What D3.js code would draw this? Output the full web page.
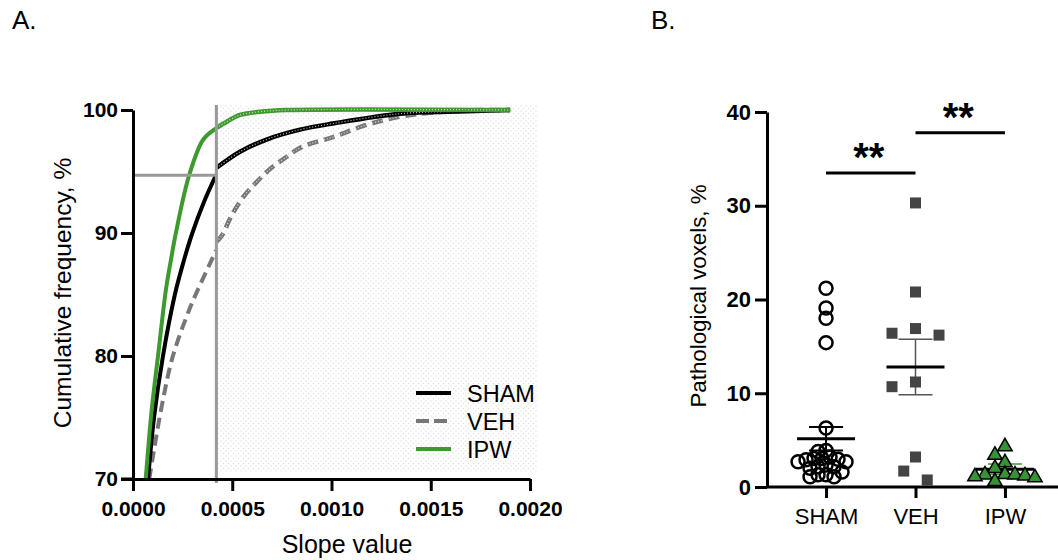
<!DOCTYPE html>
<html>
<head>
<meta charset="utf-8">
<title>Slope / voxels</title>
<script src="https://d3js.org/d3.v7.min.js"></script>
<style>
	* { margin:0; padding:0; }
	body { background:#fff; }
	svg text { font-family: "Liberation Sans", Arial, sans-serif; }
</style>
</head>
<body>
<svg id="chart" width="1058" height="560"></svg>
<script>
// ---- data ----
// panel A : cumulative distributions [slope, cumulative %]
var shamCurve = [[0.000076,70],[0.000106,75],[0.000151,80],[0.000211,85],[0.000257,87.8],[0.000299,90],[0.000357,92.5],[0.000418,94.7],
	[0.000421,95.3],[0.000539,96.6],[0.000673,97.6],[0.000841,98.4],[0.001007,98.9],[0.001344,99.7],[0.00168,99.9],[0.0019,100]];
var vehCurve = [[0.000082,70],[0.000141,75.6],[0.000201,80],[0.000282,83.7],[0.000327,85.4],[0.000396,87.8],[0.000418,88.6],
	[0.000421,89.3],[0.000448,89.8],[0.000499,91.5],[0.000559,93.0],[0.00062,94.1],[0.00069,95.2],[0.000766,96.1],[0.000851,97.0],
	[0.001008,97.8],[0.001179,98.8],[0.001345,99.45],[0.001511,99.8],[0.001763,100],[0.0019,100]];
var ipwCurve = [[0.000064,70],[0.000094,75.6],[0.000126,80],[0.000166,85.4],[0.000191,87.8],[0.000216,90],[0.000283,94.7],[0.000354,97.6],[0.000418,98.5],
	[0.000421,98.55],[0.000472,99.05],[0.000539,99.6],[0.00064,99.86],[0.000774,100],[0.0019,100]];
var cutoff = [0.00042, 94.7];
var slopeTicks = [0, 0.0005, 0.001, 0.0015, 0.002];
var freqTicks = [70, 80, 90, 100];
var legendNames = ["SHAM", "VEH", "IPW"];

// panel B : pathological voxels, %
var groups = ["SHAM", "VEH", "IPW"];
var shamVox = [21.2, 19.1, 18.0, 15.4, 6.3, 3.9, 3.8, 3.2, 3.05, 3.05, 2.95, 2.9, 2.7, 2.7, 2.35, 2.15, 2.15, 2.0, 1.6, 1.3, 1.3, 1.1, 1.1];
var vehVox = [30.3, 20.8, 16.9, 16.4, 16.2, 11.2, 10.7, 3.2, 1.7, 0.75];
var ipwVox = [4.3, 3.4, 2.6, 2.0, 1.35, 1.3, 1.3, 1.2, 1.1, 1.0, 0.6];
var groupMeans = [5.15, 12.8, 1.9];
var groupSems = [1.25, 2.95, 0.55];
var voxTicks = [0, 10, 20, 30, 40];
var sigBars = [["SHAM", "VEH", 33.5, "**"], ["VEH", "IPW", 37.8, "**"]];

var green = "#3e9a2e";
var svg = d3.select("#chart");

// ================= panel A =================
var x = d3.scaleLinear().domain([0, 0.002]).range([133, 530]);
var y = d3.scaleLinear().domain([70, 100]).range([479, 110]);

svg.append("text").attr("x", 12).attr("y", 29).attr("font-size", 26).text("A.");

// dotted shading right of the cutoff
var defs = svg.append("defs");
var pat = defs.append("pattern").attr("id", "dots").attr("patternUnits", "userSpaceOnUse")
	.attr("width", 5).attr("height", 5);
pat.append("circle").attr("cx", 1).attr("cy", 1).attr("r", 0.7).attr("fill", "#dcdcdc");
pat.append("circle").attr("cx", 3.5).attr("cy", 3.5).attr("r", 0.7).attr("fill", "#dcdcdc");
svg.append("rect")
	.attr("x", x(cutoff[0]) + 2).attr("y", y(100.4))
	.attr("width", x(0.00204) - x(cutoff[0]) - 2).attr("height", y(70.6) - y(100.4))
	.attr("fill", "url(#dots)");

var line = d3.line().x(d => x(d[0])).y(d => y(d[1])).curve(d3.curveCatmullRom.alpha(0.5));

function drawCurve(data, color, dash) {
	var pre = data.filter(d => d[0] <= cutoff[0]);
	var post = data.filter(d => d[0] > cutoff[0]);
	svg.append("path").attr("d", line(pre)).attr("fill", "none")
		.attr("stroke", color).attr("stroke-width", 4).attr("stroke-dasharray", dash);
	svg.append("path").attr("d", line(post)).attr("fill", "none")
		.attr("stroke", color).attr("stroke-width", 4.5).attr("stroke-dasharray", dash);
	// speckled texture of the part drawn with symbols
	svg.append("path").attr("d", line(post)).attr("fill", "none")
		.attr("stroke", "#fff").attr("stroke-width", 1.2).attr("stroke-dasharray", "1,2")
		.attr("opacity", 0.75);
}
drawCurve(vehCurve, "#777", "11,6");
drawCurve(shamCurve, "#000", null);
drawCurve(ipwCurve, green, null);

// cutoff crosshair
svg.append("line").attr("x1", x(cutoff[0])).attr("x2", x(cutoff[0]))
	.attr("y1", y(100.4)).attr("y2", y(70) + 4)
	.attr("stroke", "#999").attr("stroke-width", 3);
svg.append("line").attr("x1", x(0) + 1).attr("x2", x(cutoff[0]))
	.attr("y1", y(cutoff[1])).attr("y2", y(cutoff[1]))
	.attr("stroke", "#999").attr("stroke-width", 3);

var axA = svg.append("g").attr("transform", "translate(0," + y(70) + ")")
	.call(d3.axisBottom(x).tickValues(slopeTicks).tickFormat(d3.format(".4f")).tickSize(12).tickSizeOuter(0).tickPadding(10));
var ayA = svg.append("g").attr("transform", "translate(" + x(0) + ",0)")
	.call(d3.axisLeft(y).tickValues(freqTicks).tickSize(12).tickSizeOuter(0).tickPadding(3));
[axA, ayA].forEach(function (g) {
	g.selectAll("path,line").attr("stroke", "#000").attr("stroke-width", 3);
	g.selectAll("text").attr("font-size", 21).attr("font-weight", "bold").attr("fill", "#000")
		.style("font-family", "Liberation Sans, Arial, sans-serif");
});
// extend x-axis line to the left end of the 70 tick
svg.append("line").attr("x1", x(0) - 12).attr("x2", x(0)).attr("y1", y(70)).attr("y2", y(70))
	.attr("stroke", "#000").attr("stroke-width", 3);

svg.append("text").attr("x", 347).attr("y", 553).attr("text-anchor", "middle")
	.attr("font-size", 25).text("Slope value");
svg.append("text").attr("transform", "translate(62,293) rotate(-90)").attr("dy", "0.35em")
	.attr("text-anchor", "middle").attr("font-size", 24.5).text("Cumulative frequency, %");

// legend
var legColors = ["#000", "#777", green];
var legDash = [null, "13,5", null];
legendNames.forEach(function (n, i) {
	var ly = 393 + i * 28;
	svg.append("line").attr("x1", 416).attr("x2", 451).attr("y1", ly).attr("y2", ly)
		.attr("stroke", legColors[i]).attr("stroke-width", 4).attr("stroke-dasharray", legDash[i]);
	svg.append("text").attr("x", 467).attr("y", ly + 8.5).attr("font-size", 23.5).text(n);
});

// ================= panel B =================
var xb = d3.scalePoint().domain(groups).range([767, 1064]).padding(0.66);
var yb = d3.scaleLinear().domain([0, 40]).range([487, 112]);

svg.append("text").attr("x", 651).attr("y", 29).attr("font-size", 26).text("B.");

// simple swarm: place points greedily from top value down
function swarm(vals, cx, step, minDist) {
	var order = vals.map((v, i) => i).sort((a, b) => vals[b] - vals[a]);
	var placed = [];
	order.forEach(function (i) {
		var py = yb(vals[i]);
		for (var k = 0; k < 40; k++) {
			var off = k === 0 ? 0 : (k % 2 === 1 ? -1 : 1) * Math.ceil(k / 2) * step;
			var px = cx + off;
			if (placed.every(p => Math.hypot(p.x - px, p.y - py) >= minDist)) {
				placed.push({ x: px, y: py, v: vals[i] });
				break;
			}
		}
	});
	return placed;
}

// mean and SEM (behind the points)
var barColors = ["#000", "#555", green];
groups.forEach(function (g, i) {
	var cx = xb(g);
	var hi = groupMeans[i] + groupSems[i], lo = groupMeans[i] - groupSems[i];
	var eb = svg.append("g").attr("stroke", barColors[i]).attr("stroke-width", i === 0 ? 2 : 1.5);
	eb.append("line").attr("x1", cx).attr("x2", cx).attr("y1", yb(hi)).attr("y2", yb(lo));
	eb.append("line").attr("x1", cx - 17).attr("x2", cx + 17).attr("y1", yb(hi)).attr("y2", yb(hi));
	eb.append("line").attr("x1", cx - 17).attr("x2", cx + 17).attr("y1", yb(lo)).attr("y2", yb(lo));
	svg.append("line").attr("x1", cx - 29).attr("x2", cx + 29)
		.attr("y1", yb(groupMeans[i])).attr("y2", yb(groupMeans[i]))
		.attr("stroke", "#000").attr("stroke-width", 3);
});

// SHAM: open circles
svg.append("g").selectAll("circle").data(swarm(shamVox, xb("SHAM"), 4, 7.2)).join("circle")
	.attr("cx", d => d.x).attr("cy", d => d.y).attr("r", 6.5)
	.attr("fill", "none").attr("stroke", "#000").attr("stroke-width", 2.5);
// VEH: filled squares
svg.append("g").selectAll("rect").data(swarm(vehVox, xb("VEH"), 11.75, 16)).join("rect")
	.attr("x", d => d.x - 5.5).attr("y", d => d.y - 5.5).attr("width", 11).attr("height", 11)
	.attr("fill", "#444");
// IPW: green triangles
var tri = d3.symbol().type(d3.symbolTriangle).size(90);
svg.append("g").selectAll("path").data(swarm(ipwVox, xb("IPW"), 5, 10)).join("path")
	.attr("d", tri).attr("transform", d => "translate(" + d.x + "," + d.y + ")")
	.attr("fill", "#379237").attr("stroke", "#000").attr("stroke-width", 1.5);

var axB = svg.append("g").attr("transform", "translate(0," + yb(0) + ")")
	.call(d3.axisBottom(xb).tickSize(11).tickSizeOuter(0).tickPadding(10));
var ayB = svg.append("g").attr("transform", "translate(767,0)")
	.call(d3.axisLeft(yb).tickValues(voxTicks).tickSize(12).tickSizeOuter(0).tickPadding(4));
[axB, ayB].forEach(function (g) {
	g.selectAll("path,line").attr("stroke", "#000").attr("stroke-width", 3);
	g.selectAll("text").attr("fill", "#000").style("font-family", "Liberation Sans, Arial, sans-serif");
});
axB.select("path.domain").attr("d", "M767,0H1064");
axB.selectAll("text").attr("font-size", 22);
ayB.selectAll("text").attr("font-size", 22).attr("font-weight", "bold");

svg.append("text").attr("transform", "translate(698,296) rotate(-90)").attr("dy", "0.35em")
	.attr("text-anchor", "middle").attr("font-size", 22.3).text("Pathological voxels, %");

// significance bars
sigBars.forEach(function (s) {
	var x1 = xb(s[0]), x2 = xb(s[1]), yy = yb(s[2]);
	svg.append("line").attr("x1", x1).attr("x2", x2).attr("y1", yy).attr("y2", yy)
		.attr("stroke", "#000").attr("stroke-width", 3);
	svg.append("text").attr("x", (x1 + x2) / 2 - 2).attr("y", yy - 2).attr("text-anchor", "middle")
		.attr("font-size", 40).attr("font-weight", "bold").text(s[3]);
});
</script>
</body>
</html>
